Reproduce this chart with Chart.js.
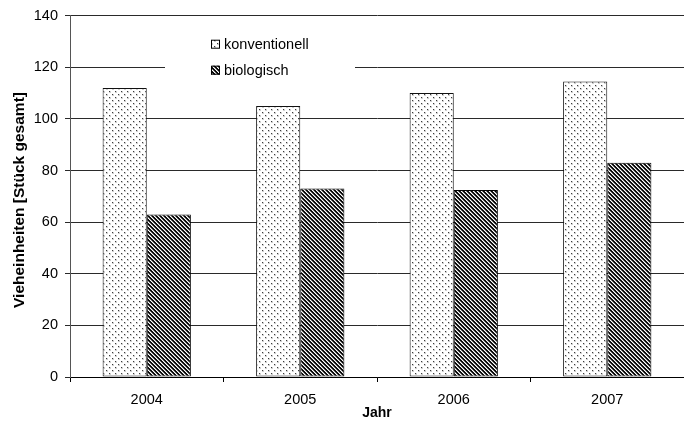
<!DOCTYPE html>
<html>
<head>
<meta charset="utf-8">
<script src="https://cdn.jsdelivr.net/npm/chart.js@4/dist/chart.umd.min.js"></script>
<style>
  html, body { margin: 0; padding: 0; background: #fff; }
  canvas { display: block; }
</style>
</head>
<body>
<canvas id="chart" width="684" height="423"></canvas>
<script>
// Livestock units per year, conventional vs. organic farms
const years = ['2004', '2005', '2006', '2007'];
const konventionell = [112, 105, 110, 114.5];
const biologisch = [63, 73, 72.5, 83];
const seriesNames = ['konventionell', 'biologisch'];
const yTicks = [0, 20, 40, 60, 80, 100, 120, 140];
const yTitle = 'Vieheinheiten [Stück gesamt]';
const xTitle = 'Jahr';

const FONT = '"Liberation Sans", Arial, Helvetica, sans-serif';
const canvas = document.getElementById('chart');
const ctx = canvas.getContext('2d');

// Small repeating fills for the bars
function makePattern(size, paint) {
  const c = document.createElement('canvas');
  c.width = c.height = size;
  const g = c.getContext('2d');
  g.fillStyle = '#fff';
  g.fillRect(0, 0, size, size);
  paint(g, size);
  return ctx.createPattern(c, 'repeat');
}

// staggered dot grid
const dotFill = makePattern(6, g => {
  g.fillStyle = '#d0d0d0';
  g.fillRect(1, 1, 2, 2);
  g.fillRect(4, 4, 2, 2);
  g.fillStyle = '#3a3a3a';
  g.fillRect(1, 1, 1, 1);
  g.fillRect(4, 4, 1, 1);
});

// diagonal stripes running down to the right
const stripeFill = makePattern(4, g => {
  const shades = ['#000', '#1a1a1a', '#fff', '#8a8a8a'];
  for (let y = 0; y < 4; y++) {
    for (let x = 0; x < 4; x++) {
      g.fillStyle = shades[((x - y) % 4 + 4) % 4];
      g.fillRect(x, y, 1, 1);
    }
  }
});

const fills = [dotFill, stripeFill];

// Legend box sitting inside the plot, plus the rotated value-axis title
const overlay = {
  id: 'overlay',
  afterDatasetsDraw(chart) {
    const c = chart.ctx;
    const area = chart.chartArea;
    c.save();
    const bx = area.left + 95, by = area.top + 16;
    c.fillStyle = '#fff';
    c.fillRect(bx, by, 190, 52);
    c.font = '14.5px ' + FONT;
    c.textBaseline = 'middle';
    c.textAlign = 'left';
    seriesNames.forEach((name, i) => {
      const cy = by + 12 + i * 26;
      c.fillStyle = fills[i];
      c.fillRect(bx + 46, cy - 4, 9, 9);
      c.strokeStyle = '#000';
      c.lineWidth = 1;
      c.strokeRect(bx + 46.5, cy - 3.5, 8, 8);
      c.fillStyle = '#000';
      c.fillText(name, bx + 59, cy + 1);
    });
    c.restore();
  },
  afterDraw(chart) {
    const c = chart.ctx;
    c.save();
    c.translate(20, 200);
    c.rotate(-Math.PI / 2);
    c.font = 'bold 15.5px ' + FONT;
    c.fillStyle = '#000';
    c.textAlign = 'center';
    c.textBaseline = 'middle';
    c.fillText(yTitle, 0, 0);
    c.restore();
  }
};

new Chart(ctx, {
  type: 'bar',
  data: {
    labels: years,
    datasets: [
      {
        label: seriesNames[0],
        data: konventionell,
        backgroundColor: dotFill,
        borderColor: '#111',
        borderWidth: 1,
        borderSkipped: false
      },
      {
        label: seriesNames[1],
        data: biologisch,
        backgroundColor: stripeFill,
        borderColor: '#000',
        borderWidth: 1,
        borderSkipped: false
      }
    ]
  },
  options: {
    responsive: false,
    animation: false,
    devicePixelRatio: 1,
    layout: { padding: { top: 14, right: 0, bottom: 0, left: 0 } },
    categoryPercentage: 0.575,
    barPercentage: 1.0,
    plugins: {
      legend: { display: false },
      tooltip: { enabled: false }
    },
    scales: {
      x: {
        grid: {
          offset: true,
          drawOnChartArea: false,
          drawTicks: true,
          tickLength: 5,
          color: '#000'
        },
        border: { display: true, color: '#000', width: 1 },
        ticks: {
          color: '#000',
          font: { family: FONT, size: 14.5 },
          padding: 9,
          maxRotation: 0
        },
        title: {
          display: true,
          text: xTitle,
          color: '#000',
          font: { family: FONT, size: 14, weight: 'bold' },
          padding: { top: 0, bottom: 1 }
        },
        afterFit(scale) { scale.height = 46; }
      },
      y: {
        min: 0,
        max: 140,
        afterBuildTicks(scale) {
          scale.ticks = yTicks.map(v => ({ value: v }));
        },
        grid: {
          color: '#2a2a2a',
          lineWidth: 1,
          drawTicks: true,
          tickLength: 5
        },
        border: { display: true, color: '#555', width: 1 },
        ticks: {
          color: '#000',
          font: { family: FONT, size: 14.5 },
          padding: 7
        },
        afterFit(scale) { scale.width = 70; }
      }
    }
  },
  plugins: [overlay]
});
</script>
</body>
</html>
